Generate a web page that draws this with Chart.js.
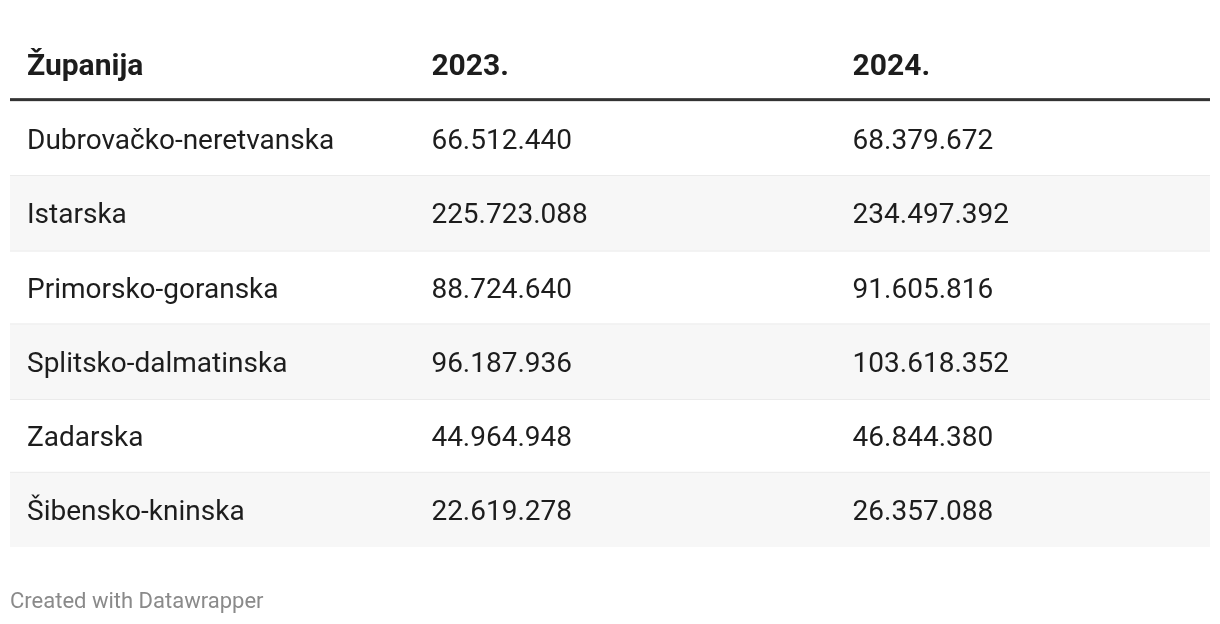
<!DOCTYPE html>
<html>
<head>
<meta charset="utf-8">
<script src="https://cdn.jsdelivr.net/npm/chart.js@4.4.1/dist/chart.umd.min.js"></script>
<style>
  html, body { margin: 0; padding: 0; background: #fff; }
  #wrap { width: 1220px; height: 624px; position: relative; }
</style>
</head>
<body>
<div id="wrap"><canvas id="tableChart"></canvas></div>
<script>
// Table data
const headers = ["Županija", "2023.", "2024."];
const counties = [
  "Dubrovačko-neretvanska",
  "Istarska",
  "Primorsko-goranska",
  "Splitsko-dalmatinska",
  "Zadarska",
  "Šibensko-kninska"
];
const values2023 = [66512440, 225723088, 88724640, 96187936, 44964948, 22619278];
const values2024 = [68379672, 234497392, 91605816, 103618352, 46844380, 26357088];
const footerText = "Created with Datawrapper";

// Layout (column start as a fraction of table width)
const colStart = [0, 0.337, 0.688];
const cellPad = 17;
const rowLabels = [headers[0], ...counties];

const fmt = n => String(n).replace(/\B(?=(\d{3})+(?!\d))/g, ".");

// stripes on every second body row, drawn as horizontal floating bars
const stripes = rowLabels.map((_, i) => (i > 0 && i % 2 === 0) ? [0, 1] : null);

const tablePlugin = {
  id: "tableCells",
  beforeDatasetsDraw(chart) {
    const { ctx, chartArea, scales: { y } } = chart;
    const band = (chartArea.bottom - chartArea.top) / rowLabels.length;
    ctx.save();
    // row separators
    ctx.fillStyle = "#e3e3e3";
    for (let i = 1; i < rowLabels.length - 1; i++) {
      const yb = y.getPixelForValue(i) + band / 2;
      ctx.fillRect(chartArea.left, yb - 1, chartArea.right - chartArea.left, 2);
    }
    ctx.restore();
  },
  afterDatasetsDraw(chart) {
    const { ctx, chartArea, scales: { x, y } } = chart;
    const band = (chartArea.bottom - chartArea.top) / rowLabels.length;
    ctx.save();
    // header
    const hy = y.getPixelForValue(0);
    ctx.fillStyle = "#1d1d1d";
    ctx.font = "bold 30px Roboto";
    ctx.textBaseline = "alphabetic";
    headers.forEach((h, c) => {
      ctx.fillText(h, x.getPixelForValue(colStart[c]) + cellPad, hy + 10);
    });
    ctx.fillStyle = "#333333";
    ctx.fillRect(chartArea.left, hy + band / 2 - 4, chartArea.right - chartArea.left, 3);

    // body
    ctx.font = "28px Roboto";
    ctx.fillStyle = "#1d1d1d";
    counties.forEach((name, r) => {
      const cy = y.getPixelForValue(r + 1) + 10;
      ctx.fillText(name, x.getPixelForValue(colStart[0]) + cellPad, cy);
      ctx.fillText(fmt(values2023[r]), x.getPixelForValue(colStart[1]) + cellPad, cy);
      ctx.fillText(fmt(values2024[r]), x.getPixelForValue(colStart[2]) + cellPad, cy);
    });

    // footer
    ctx.font = "22px Roboto";
    ctx.fillStyle = "#8a8a8a";
    ctx.fillText(footerText, chartArea.left, chartArea.bottom + 61);
    ctx.restore();
  }
};

new Chart(document.getElementById("tableChart"), {
  type: "bar",
  data: {
    labels: rowLabels,
    datasets: [{
      data: stripes,
      backgroundColor: "#f7f7f7",
      borderWidth: 0,
      barPercentage: 1,
      categoryPercentage: 1
    }]
  },
  options: {
    indexAxis: "y",
    responsive: true,
    maintainAspectRatio: false,
    animation: false,
    layout: { padding: { left: 10, right: 10, top: 28, bottom: 77 } },
    plugins: { legend: { display: false }, tooltip: { enabled: false } },
    scales: {
      x: { type: "linear", min: 0, max: 1, display: false },
      y: { type: "category", offset: true, display: false }
    }
  },
  plugins: [tablePlugin]
});
</script>
</body>
</html>
